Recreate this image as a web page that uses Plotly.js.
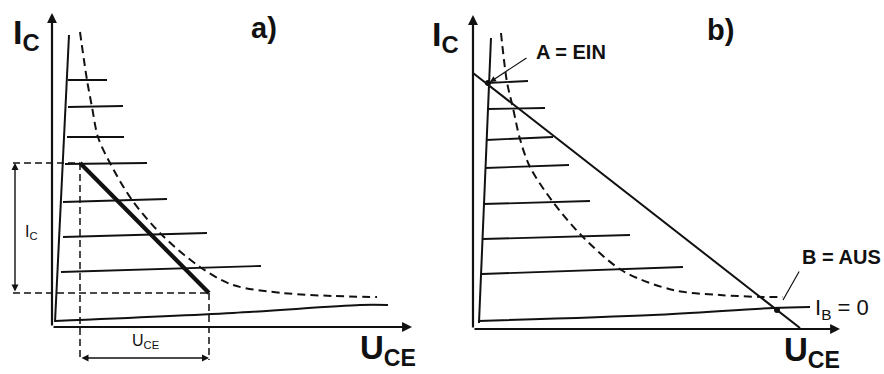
<!DOCTYPE html>
<html><head><meta charset="utf-8">
<script src="https://cdn.plot.ly/plotly-3.0.1.min.js"></script>
<style>html,body{margin:0;padding:0;background:#fff}</style>
</head><body><div id="chart" style="width:884px;height:374px"></div>
<script>
// ---- Panel a) data (U_CE, I_C in arbitrary units) ----
const satA_u = [0.3, 1.7];
const satA_i = [0.5, 29.2];
const charA_u0 = [1.6, 1.6, 1.5, 1.3, 1.1, 1.1, 0.9];
const charA_u1 = [5.5, 7.1, 7.2, 9.5, 11.5, 15.5, 20.9];
const charA_i0 = [24.7, 22.0, 19.0, 16.3, 12.5, 9.0, 5.5];
const charA_i1 = [24.7, 22.1, 19.0, 16.4, 12.8, 9.4, 6.1];
const cutA_u = [0.3, 18.1, 30.8, 33.6];
const cutA_i = [0.6, 1.4, 2.2, 2.2];
const hypA_u = [2.8, 3.5, 4.0, 4.6, 5.8, 8.0, 11.0, 14.8, 18.1, 23.1, 28.1, 32.5];
const hypA_i = [29.5, 24.7, 22.0, 19.0, 16.4, 12.7, 9.2, 6.0, 4.2, 3.4, 3.1, 3.0];
const loadA_u = [2.8, 15.7];
const loadA_i = [16.4, 3.4];
const axisA = {uMax: 36.0, iMax: 31.4};

// ---- Panel b) data ----
const satB_u = [0.6, 1.8];
const satB_i = [0.6, 29.1];
const charB_u0 = [1.4, 1.4, 1.3, 1.2, 1.0, 1.0, 0.9];
const charB_u1 = [5.5, 7.2, 8.0, 9.6, 11.7, 15.7, 21.0];
const charB_i0 = [24.6, 22.0, 18.9, 16.1, 12.5, 9.0, 5.5];
const charB_i1 = [24.8, 22.1, 19.2, 16.4, 12.8, 9.4, 6.2];
const cutB_u = [0.5, 18.0, 30.0, 33.7];
const cutB_i = [0.8, 1.4, 2.1, 2.2];
const hypB_u = [2.8, 3.4, 4.0, 4.7, 5.7, 8.0, 11.0, 15.0, 20.0, 24.7, 29.0, 31.0];
const hypB_i = [29.6, 24.7, 22.1, 19.0, 16.2, 12.7, 9.2, 5.8, 3.9, 3.4, 3.2, 3.2];
const loadB_u = [0.0, 32.7];
const loadB_i = [25.6, 0.1];
const pointA = {u: 1.5, i: 24.6};
const pointB = {u: 30.4, i: 1.9};
const axisB = {uMax: 36.7, iMax: 31.4};

const INK = '#111';
const traces = [];
function line(xa, ya, u, i, w, dash, shape) {
  traces.push({type:'scatter', mode:'lines', x:u, y:i, xaxis:xa, yaxis:ya,
    line:{color:INK, width:w, dash:dash||'solid', shape:shape||'linear', smoothing:0.9},
    hoverinfo:'skip', showlegend:false});
}
function family(xa, ya, sat_u, sat_i, u0, u1, i0, i1, cu, ci, hu, hi) {
  line(xa, ya, sat_u, sat_i, 2);
  for (let k = 0; k < u0.length; k++) line(xa, ya, [u0[k], u1[k]], [i0[k], i1[k]], 1.8);
  line(xa, ya, cu, ci, 2, 'solid', 'spline');
  line(xa, ya, hu, hi, 2, '8px,5px', 'spline');
}
family('x','y', satA_u, satA_i, charA_u0, charA_u1, charA_i0, charA_i1, cutA_u, cutA_i, hypA_u, hypA_i);
family('x2','y2', satB_u, satB_i, charB_u0, charB_u1, charB_i0, charB_i1, cutB_u, cutB_i, hypB_u, hypB_i);

// panel a load line + dimension guides
line('x','y', loadA_u, loadA_i, 4.2);
line('x','y', [-3.9, loadA_u[0]], [loadA_i[0], loadA_i[0]], 1.5, '7px,4px');
line('x','y', [-3.9, loadA_u[1]], [loadA_i[1], loadA_i[1]], 1.5, '7px,4px');
line('x','y', [loadA_u[0], loadA_u[0]], [loadA_i[0], -3.3], 1.5, '7px,4px');
line('x','y', [loadA_u[1], loadA_u[1]], [loadA_i[1], -3.3], 1.5, '7px,4px');

// panel b load line + points
line('x2','y2', loadB_u, loadB_i, 2);
traces.push({type:'scatter', mode:'markers', x:[pointA.u, pointB.u], y:[pointA.i, pointB.i],
  xaxis:'x2', yaxis:'y2', marker:{color:INK, size:6}, hoverinfo:'skip', showlegend:false});

const FONT = 'Liberation Sans, Arial, sans-serif';
function arrow(xr, yr, x, y, ax, ay, w, head, side, size) {
  return {xref:xr, yref:yr, axref:xr, ayref:yr, x:x, y:y, ax:ax, ay:ay, text:'',
    showarrow:true, arrowhead:head, arrowside:side||'end', arrowsize:size||1, arrowwidth:w, arrowcolor:INK,
    standoff:0, startstandoff:0};
}
function label(xr, yr, x, y, text, size, bold, xanchor) {
  return {xref:xr, yref:yr, x:x, y:y, text:bold ? '<b>'+text+'</b>' : text, showarrow:false,
    xanchor:xanchor||'center', yanchor:'middle', font:{family:FONT, size:size, color:INK}};
}

const annotations = [
  // axes a
  arrow('x','y', 0, axisA.iMax, 0, 0, 2.2, 2, 'end', 0.9),
  arrow('x','y', axisA.uMax, 0, 0, 0, 2.2, 2, 'end', 0.9),
  // axes b
  arrow('x2','y2', 0, axisB.iMax, 0, 0, 2.2, 2, 'end', 0.9),
  arrow('x2','y2', axisB.uMax, 0, 0, 0, 2.2, 2, 'end', 0.9),
  // dimension arrows a
  arrow('x','y', -3.7, loadA_i[0], -3.7, loadA_i[1], 1.4, 2, 'end+start', 1),
  arrow('x','y', loadA_u[1], -3.1, loadA_u[0], -3.1, 1.4, 2, 'end+start', 1),
  // pointers b
  arrow('x2','y2', 1.7, 24.7, 5.5, 27.2, 1.2, 2, 'end', 1),
  arrow('x2','y2', 31.0, 2.9, 32.7, 5.9, 1.2, 0, 'end', 1),
  // labels a
  label('x','y', -2.6, 29.3, 'I<sub>C</sub>', 34, true),
  label('x','y', 21.2, 29.9, 'a)', 29, true),
  label('x','y', 33.6, -2.3, 'U<sub>CE</sub>', 33, true),
  label('x','y', -2.1, 9.5, 'I<sub>C</sub>', 16, false),
  label('x','y', 9.3, -1.4, 'U<sub>CE</sub>', 16, false),
  // labels b
  label('x2','y2', -2.7, 29.3, 'I<sub>C</sub>', 34, true),
  label('x2','y2', 24.8, 29.9, 'b)', 29, true),
  label('x2','y2', 33.9, -2.3, 'U<sub>CE</sub>', 33, true),
  label('x2','y2', 9.8, 27.7, 'A = EIN', 20, true),
  label('x2','y2', 36.9, 7.2, 'B = AUS', 20, true),
  label('x2','y2', 34.0, 2.0, 'I<sub>B</sub> = 0', 22, false, 'left')
];

const hid = {visible:false, fixedrange:true};
const layout = {
  width:884, height:374, margin:{l:0, r:0, t:0, b:0},
  paper_bgcolor:'#fff', plot_bgcolor:'#fff', showlegend:false,
  xaxis: Object.assign({domain:[0, 0.4751], range:[-5.2, 36.8], anchor:'y'}, hid),
  yaxis: Object.assign({domain:[0, 1], range:[-4.7, 32.7], anchor:'x'}, hid),
  xaxis2: Object.assign({domain:[0.4751, 1], range:[-5.3, 41.1], anchor:'y2'}, hid),
  yaxis2: Object.assign({domain:[0, 1], range:[-4.5, 32.9], anchor:'x2'}, hid),
  annotations: annotations
};
Plotly.newPlot('chart', traces, layout, {displayModeBar:false, staticPlot:true});
</script></body></html>
